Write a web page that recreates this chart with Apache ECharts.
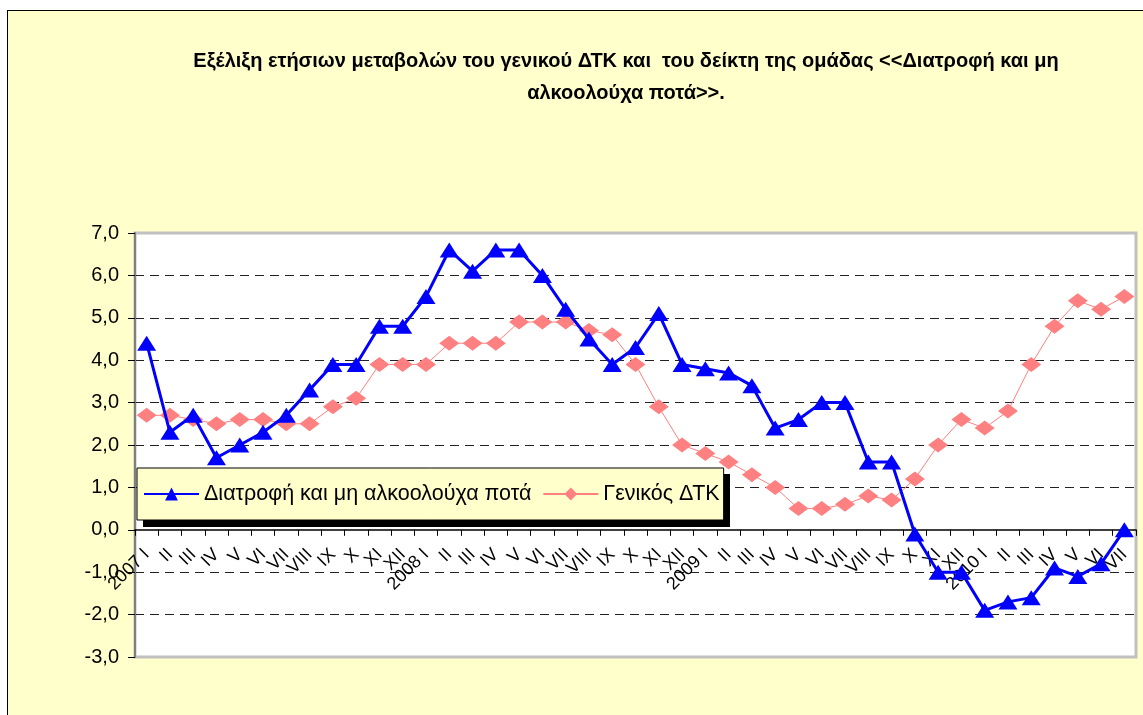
<!DOCTYPE html>
<html>
<head>
<meta charset="utf-8">
<script src="https://cdn.jsdelivr.net/npm/echarts@6/dist/echarts.min.js"></script>
<style>
  html, body { margin: 0; padding: 0; background: #fff; }
  #frame {
    position: absolute; left: 7px; top: 10px; width: 1200px; height: 800px;
    background: #ffffcc; border-left: 1.5px solid #000; border-top: 1.5px solid #000;
  }
  #chart { position: absolute; left: 0; top: 0; width: 1143px; height: 715px; }
</style>
</head>
<body>
<div id="frame"></div>
<div id="chart"></div>
<script>
const categories = [
  "2007 I", "II", "III", "IV", "V", "VI", "VII", "VIII", "IX", "X", "XI", "XII",
  "2008 I", "II", "III", "IV", "V", "VI", "VII", "VIII", "IX", "X", "XI", "XII",
  "2009 I", "II", "III", "IV", "V", "VI", "VII", "VIII", "IX", "X", "XI", "XII",
  "2010 I", "II", "III", "IV", "V", "VI", "VII",
];
// Διατροφή και μη αλκοολούχα ποτά
const food = [
  4.4, 2.3, 2.7, 1.7, 2.0, 2.3, 2.7, 3.3, 3.9, 3.9, 4.8, 4.8,
  5.5, 6.6, 6.1, 6.6, 6.6, 6.0, 5.2, 4.5, 3.9, 4.3, 5.1, 3.9,
  3.8, 3.7, 3.4, 2.4, 2.6, 3.0, 3.0, 1.6, 1.6, -0.1, -1.0, -1.0,
  -1.9, -1.7, -1.6, -0.9, -1.1, -0.8, 0.0,
];
// Γενικός ΔΤΚ
const cpi = [
  2.7, 2.7, 2.6, 2.5, 2.6, 2.6, 2.5, 2.5, 2.9, 3.1, 3.9, 3.9,
  3.9, 4.4, 4.4, 4.4, 4.9, 4.9, 4.9, 4.7, 4.6, 3.9, 2.9, 2.0,
  1.8, 1.6, 1.3, 1.0, 0.5, 0.5, 0.6, 0.8, 0.7, 1.2, 2.0, 2.6,
  2.4, 2.8, 3.9, 4.8, 5.4, 5.2, 5.5,
];
const yTicks = [-3, -2, -1, 0, 1, 2, 3, 4, 5, 6, 7];

const chartDom = document.getElementById("chart");
const myChart = echarts.init(chartDom);
const font = "Liberation Sans, Arial, sans-serif";

// plot box
const gridTop = 233, gridBottom = 58, plotH = 715 - gridTop - gridBottom;
// move the category axis up to the zero line
const zeroShift = -(plotH * (0 - -3)) / (7 - -3);

// one colour per split line; the edges and zero line get none
const gridColors = yTicks.map((v) => (v === -3 || v === 7 || v === 0 ? "rgba(0,0,0,0)" : "#222"));

const option = {
  animation: false,
  backgroundColor: "transparent",
  textStyle: { fontFamily: font },
  title: {
    text: "Εξέλιξη ετήσιων μεταβολών του γενικού ΔΤΚ και  του δείκτη της ομάδας <<Διατροφή και μη\nαλκοολούχα ποτά>>.",
    left: 621,
    top: 40,
    textAlign: "center",
    textStyle: {
      fontFamily: font,
      fontWeight: "bold",
      fontSize: 20,
      lineHeight: 32,
      color: "#000",
    },
  },
  grid: {
    left: 135,
    top: gridTop,
    right: 7,
    bottom: gridBottom,
    show: true,
    backgroundColor: "#fff",
    borderColor: "#c0c0c0",
    borderWidth: 3,
  },
  legend: {
    left: 137,
    top: 468,
    orient: "horizontal",
    backgroundColor: "#ffffcc",
    borderColor: "#000",
    borderWidth: 1,
    padding: [15, 4, 15, 6],
    itemGap: 11,
    itemWidth: 55,
    itemHeight: 16,
    textStyle: { fontSize: 21.5, color: "#000", fontFamily: font },
    data: ["Διατροφή και μη αλκοολούχα ποτά", "Γενικός ΔΤΚ"],
  },
  graphic: [
    {
      type: "rect",
      z: 3,
      shape: { x: 143, y: 474, width: 587, height: 53 },
      style: { fill: "#000" },
      silent: true,
    },
  ],
  xAxis: {
    type: "category",
    data: categories,
    boundaryGap: true,
    offset: zeroShift,
    axisLine: { onZero: false, lineStyle: { color: "#000", width: 1.5 } },
    axisTick: { show: true, interval: 0, length: 6, lineStyle: { color: "#000" } },
    axisLabel: {
      interval: 0,
      rotate: 45,
      margin: 22,
      fontSize: 18,
      color: "#000",
      fontFamily: font,
    },
    splitLine: { show: false },
  },
  yAxis: {
    type: "value",
    min: -3,
    max: 7,
    interval: 1,
    axisLine: { show: true, lineStyle: { color: "#808080", width: 2 } },
    axisTick: { show: true, length: 7, lineStyle: { color: "#000" } },
    axisLabel: {
      fontSize: 20,
      color: "#000",
      margin: 16,
      fontFamily: font,
      formatter: (v) => v.toFixed(1).replace(".", ","),
    },
    splitLine: {
      show: true,
      lineStyle: { color: gridColors, type: [9, 6], width: 1 },
    },
  },
  series: [
    {
      name: "Διατροφή και μη αλκοολούχα ποτά",
      type: "line",
      data: food,
      z: 3,
      symbol: "triangle",
      symbolSize: [19, 15],
      lineStyle: { color: "#0000ff", width: 3 },
      itemStyle: { color: "#0000ff" },
    },
    {
      name: "Γενικός ΔΤΚ",
      type: "line",
      data: cpi,
      z: 2,
      symbol: "diamond",
      symbolSize: [20, 15],
      lineStyle: { color: "#ff8080", width: 1 },
      itemStyle: { color: "#ff8080" },
    },
  ],
};

option && myChart.setOption(option);
</script>
</body>
</html>
